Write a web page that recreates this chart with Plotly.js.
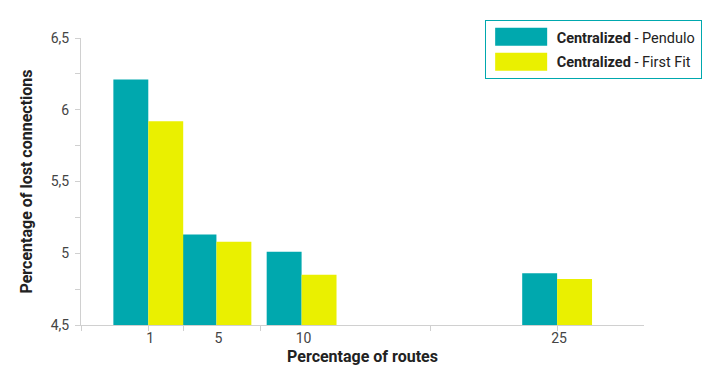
<!DOCTYPE html>
<html>
<head>
<meta charset="utf-8">
<script src="https://cdn.plot.ly/plotly-3.0.1.min.js"></script>
<style>html,body{margin:0;padding:0;background:#fff}#chart{width:716px;height:374px}</style>
</head>
<body>
<div id="chart"></div>
<script>
const routes = [1, 5, 10, 25];
const tickLabels = ['1', '5', '10', '25'];
const penduloValues = [6.21, 5.13, 5.01, 4.86];
const firstFitValues = [5.92, 5.08, 4.85, 4.82];
const seriesNames = ['<b>Centralized</b> - Pendulo', '<b>Centralized</b> - First Fit'];
const xMinorTicks = [-2.93, 1.001, 3.05, 7.56, 17.54, 24.999];
const baseline = 4.5;

const barWidth = 2.05;
const traces = [
  {type: 'bar', name: seriesNames[0], legendgroup: 'a', x: routes,
   y: penduloValues.map(v => v - baseline), base: baseline,
   width: barWidth, offset: -barWidth, marker: {color: '#00A8AE'}},
  {type: 'bar', name: seriesNames[1], legendgroup: 'b', x: routes,
   y: firstFitValues.map(v => v - baseline), base: baseline,
   width: barWidth, offset: 0, marker: {color: '#EAF000'}}
];

const layout = {
  width: 716, height: 374,
  margin: {l: 81, r: 72, t: 38, b: 49},
  paper_bgcolor: '#fff', plot_bgcolor: '#fff',
  font: {family: 'Roboto, sans-serif', size: 14, color: '#444'},
  separators: ',.',
  barmode: 'overlay',
  showlegend: true,
  legend: {x: 0.717, y: 1.063, xanchor: 'left', yanchor: 'top',
    bgcolor: '#fff', bordercolor: '#00A8AE', borderwidth: 1,
    font: {family: 'Roboto, sans-serif', size: 14.5, color: '#222'},
    traceorder: 'grouped', tracegroupgap: 3, itemwidth: 61},
  xaxis: {
    type: 'linear', range: [-2.95, 30.1],
    tickmode: 'array', tickvals: routes, ticktext: tickLabels,
    ticks: '', showgrid: false, zeroline: false,
    showline: true, linecolor: '#d0d0d0', linewidth: 1,
    tickfont: {size: 14, color: '#444'},
    ticklabelshift: 2,
    minor: {tickmode: 'array', tickvals: xMinorTicks, ticks: 'outside', ticklen: 5, tickcolor: '#d0d0d0', tickwidth: 1, showgrid: false},
    title: {text: '<b>Percentage of routes</b>', font: {size: 16, color: '#222'}, standoff: 6}
  },
  yaxis: {
    range: [4.5, 6.5], tickmode: 'linear', tick0: 4.5, dtick: 0.5,
    ticks: 'outside', ticklen: 5, tickcolor: '#d0d0d0', tickwidth: 1,
    minor: {dtick: 0.25, ticks: 'outside', ticklen: 5, tickcolor: '#d0d0d0', tickwidth: 1, showgrid: false},
    showgrid: false, zeroline: false,
    showline: true, linecolor: '#d0d0d0', linewidth: 1,
    tickfont: {size: 14, color: '#444'},
    ticklabelstandoff: 3,
    title: {text: '<b>Percentage of lost connections</b>', font: {size: 16, color: '#222'}, standoff: 14}
  }
};
Plotly.newPlot('chart', traces, layout, {displayModeBar: false, staticPlot: true}).then(function (gd) {
  // widen legend swatches to match the reference's wide colour blocks
  gd.querySelectorAll('.legend .legendpoints path').forEach(function (p) {
    p.setAttribute('d', 'M26,9H-26V-9H26Z');
    p.style.strokeWidth = '0';
  });
});
</script>
</body>
</html>
